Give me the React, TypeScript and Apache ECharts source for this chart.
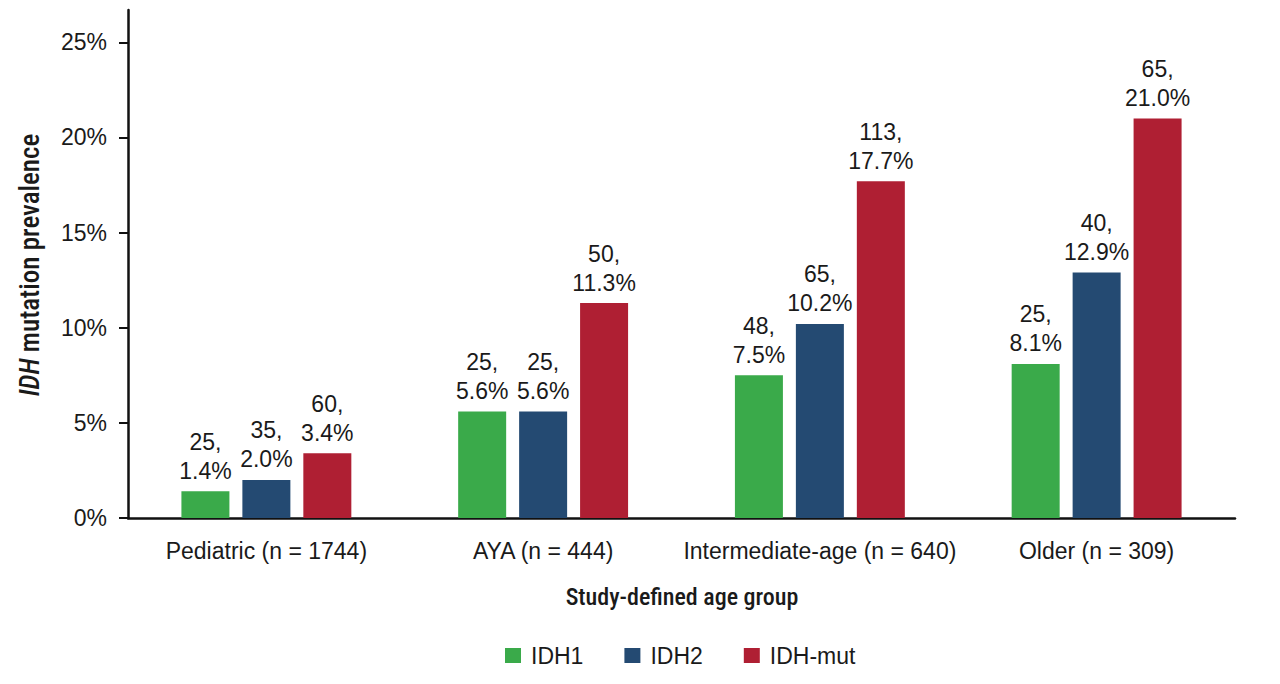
import React, { useEffect, useRef } from "react";
import * as echarts from "echarts";

const categories = [
  "Pediatric (n = 1744)",
  "AYA (n = 444)",
  "Intermediate-age (n = 640)",
  "Older (n = 309)",
];
const idh1Pct = [1.4, 5.6, 7.5, 8.1];
const idh1N = [25, 25, 48, 25];
const idh2Pct = [2.0, 5.6, 10.2, 12.9];
const idh2N = [35, 25, 65, 40];
const mutPct = [3.4, 11.3, 17.7, 21.0];
const mutN = [60, 50, 113, 65];
const yTicks = [0, 5, 10, 15, 20, 25];
const xTitle = "Study-defined age group";
const yTitle = "{i|IDH} mutation prevalence";

const FONT = "'Liberation Sans', Arial, Helvetica, sans-serif";
const CONDFONT = "500 24px 'Roboto Condensed', sans-serif";
const CONDFONT_Y = "500 27px 'Roboto Condensed', sans-serif";

export default function App() {
  const ref = useRef<HTMLDivElement>(null);
  useEffect(() => {
    document.body.style.margin = "0";
    const chart = echarts.init(ref.current!, null, { renderer: "svg" });
    const mk = (name: string, color: string, pct: number[], n: number[]) => ({
      name,
      type: "bar",
      barWidth: 48,
      barGap: "27%",
      itemStyle: { color },
      data: pct.map((v, i) => ({ value: v, count: n[i] })),
      label: {
        show: true,
        position: "top",
        distance: 6,
        fontFamily: FONT,
        fontSize: 23,
        lineHeight: 29,
        color: "#1a1a1a",
        align: "center",
        formatter: (p: any) => `${p.data.count},\n${p.value.toFixed(1)}%`,
      },
    });
    chart.setOption({
      animation: false,
      textStyle: { fontFamily: FONT },
      grid: { left: 128, right: 45, top: 10, bottom: 166, containLabel: false },
      graphic: [
        {
          type: "text",
          x: 682,
          y: 597,
          style: {
            text: xTitle,
            font: CONDFONT,
            fill: "#1a1a1a",
            align: "center",
            verticalAlign: "middle",
          },
        },
        {
          type: "text",
          x: 30,
          y: 265,
          rotation: Math.PI / 2,
          style: {
            text: yTitle,
            font: CONDFONT_Y,
            fill: "#1a1a1a",
            align: "center",
            verticalAlign: "middle",
            rich: {
              i: { font: "italic " + CONDFONT_Y, fill: "#1a1a1a" },
            },
          },
        },
      ],
      legend: {
        bottom: 12,
        left: 500,
        itemWidth: 16,
        itemHeight: 15,
        itemGap: 41,
        icon: "rect",
        textStyle: { fontSize: 23, color: "#1a1a1a", fontFamily: FONT, padding: [0, 0, 0, 5] },
        data: ["IDH1", "IDH2", "IDH-mut"],
      },
      xAxis: {
        type: "category",
        data: categories,
        axisLine: { lineStyle: { color: "#111", width: 2.5 } },
        axisTick: { alignWithLabel: true, interval: 0, length: 9, lineStyle: { color: "#111", width: 2 } },
        axisLabel: { fontSize: 23, color: "#1a1a1a", margin: 21, interval: 0 },
      },
      yAxis: {
        type: "value",
        min: 0,
        max: 26.7,
        splitLine: { show: false },
        axisLine: { show: true, lineStyle: { color: "#111", width: 2.5 } },
        axisTick: {
          show: true,
          length: 9,
          customValues: yTicks,
          lineStyle: { color: "#111", width: 2 },
        },
        axisLabel: {
          fontSize: 23,
          color: "#1a1a1a",
          margin: 21,
          customValues: yTicks,
          formatter: "{value}%",
        },
      },
      series: [
        mk("IDH1", "#3aaa4a", idh1Pct, idh1N),
        mk("IDH2", "#244a72", idh2Pct, idh2N),
        mk("IDH-mut", "#af1f33", mutPct, mutN),
      ],
    });
    return () => chart.dispose();
  }, []);
  return <div ref={ref} style={{ width: 1280, height: 684 }} />;
}
